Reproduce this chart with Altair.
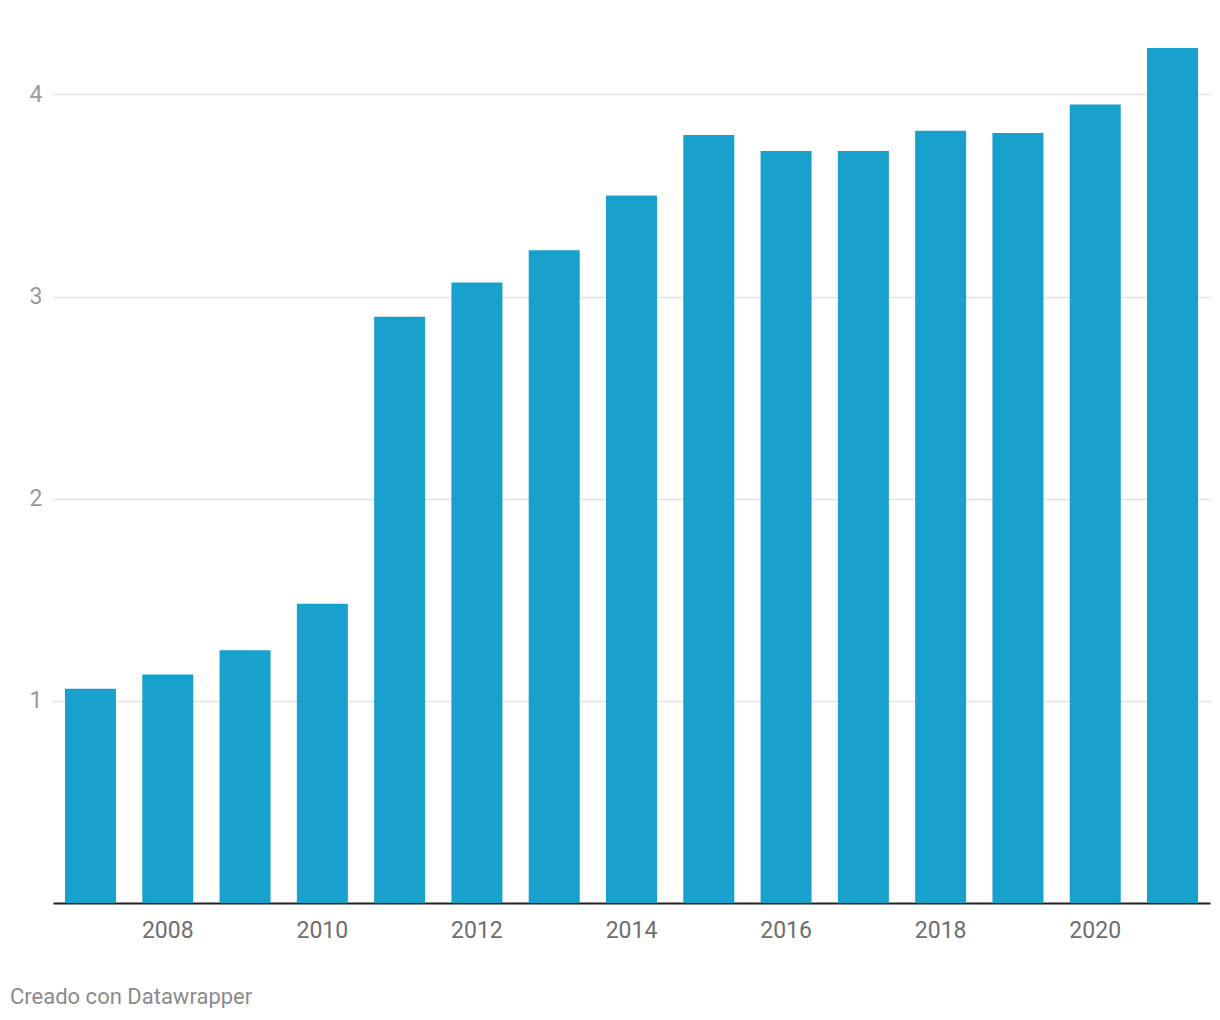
import altair as alt
import pandas as pd

years = [2007, 2008, 2009, 2010, 2011, 2012, 2013, 2014, 2015, 2016, 2017, 2018, 2019, 2020, 2021]
values = [1.06, 1.13, 1.25, 1.48, 2.90, 3.07, 3.23, 3.50, 3.80, 3.72, 3.72, 3.82, 3.81, 3.95, 4.23]
x_tick_labels = [2008, 2010, 2012, 2014, 2016, 2018, 2020]
y_tick_values = [1, 2, 3, 4]

df = pd.DataFrame({"year": years, "value": values})

bars = alt.Chart(df).mark_bar(color="#18a1cd").encode(
    x=alt.X(
        "year:O",
        scale=alt.Scale(paddingInner=0.34, paddingOuter=0.155),
        axis=alt.Axis(
            values=x_tick_labels,
            title=None,
            labelAngle=0,
            ticks=False,
            domain=True,
            domainColor="#222222",
            domainWidth=2,
            labelColor="#6e6e6e",
            labelFontSize=23,
            labelFont="Roboto",
            labelPadding=16,
            grid=False,
        ),
    ),
    y=alt.Y(
        "value:Q",
        scale=alt.Scale(domain=[0, 4.23], nice=False, zero=True),
        axis=alt.Axis(
            values=y_tick_values,
            title=None,
            ticks=False,
            domain=False,
            grid=True,
            gridColor="#e3e3e3",
            gridWidth=1.5,
            labelColor="#9a9a9a",
            labelFontSize=23,
            labelFont="Roboto",
            labelPadding=11,
        ),
    ),
)

chart = bars.properties(
    width=1157,
    height=855,
    autosize=alt.AutoSizeParams(type="none"),
    padding={"left": 45, "top": 40, "right": 2, "bottom": 105},
    title=alt.TitleParams(
        "Creado con Datawrapper",
        orient="bottom",
        anchor="start",
        frame="group",
        dx=-43,
        offset=45,
        fontSize=22,
        font="Roboto",
        fontWeight="normal",
        color="#8a8a8a",
    ),
).configure(background="white", view=alt.ViewConfig(stroke=None))

chart.save("out.html", embed_options={"renderer": "svg", "actions": False})
